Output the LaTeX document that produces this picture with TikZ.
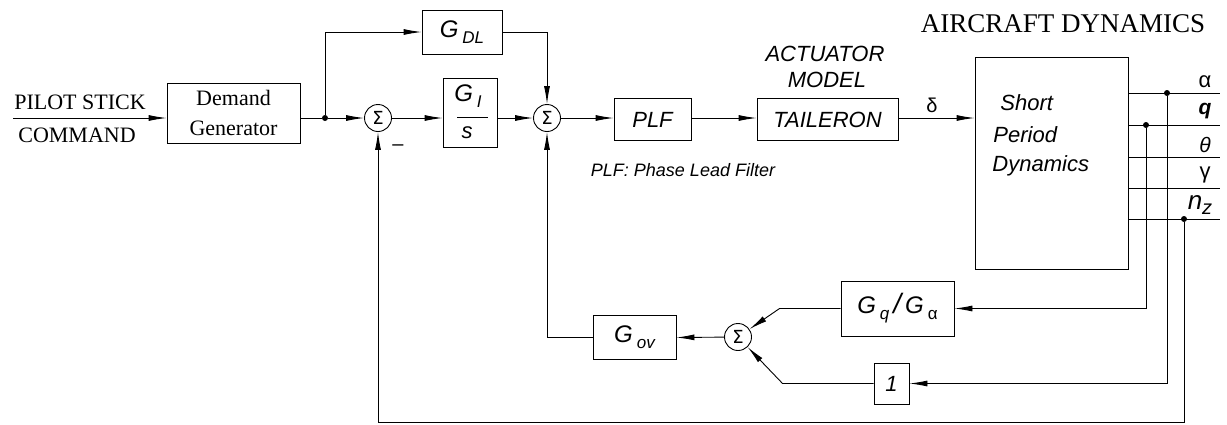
\documentclass[tikz,border=0pt]{standalone}
\usepackage{fontspec}
\setmainfont{Liberation Serif}
\newfontfamily\arial{Liberation Sans}
\newfontfamily\dejavu{DejaVu Sans}
\usetikzlibrary{arrows.meta}
\newcommand\fsz[2]{\fontsize{#1}{#2}\selectfont}
\newcommand\gsub[1]{\,\raisebox{-6pt}{\fsz{17}{17}#1}}
\begin{document}
\begin{tikzpicture}[x=1pt,y=-1pt,
  line width=0.9pt,
  >={Latex[length=18pt,width=6pt]},
  blk/.style={draw, inner sep=0pt, font=\arial\itshape\fsz{22}{26}},
  sblk/.style={draw, inner sep=0pt, align=center, font=\fsz{22}{30}},
  sumnode/.style={draw, circle, minimum size=27pt, inner sep=0pt, font=\dejavu\fsz{18}{18}},
  dot/.style={circle, fill, inner sep=0pt, minimum size=6pt},
  serif/.style={inner sep=0pt, font=\fsz{22}{22}},
  sans/.style={inner sep=0pt, font=\arial\itshape\fsz{22}{22}},
  sig/.style={inner sep=0pt, font=\arial\itshape\fsz{20}{20}}
]
\useasboundingbox (0,0) rectangle (1227,424);

% input text
\node[serif] (pilot) at (80,102) {PILOT STICK};
\node[serif] (cmd) at (77,135) {COMMAND};
\coordinate (in) at (13,118);

% blocks
\node[sblk, minimum width=133pt, minimum height=60pt] (dg) at (233.5,113) {Demand\\Generator};
\node[dot] (split) at (325,118) {};
\node[sumnode] (sum1) at (378,118) {Σ};
\node[sumnode] (sum2) at (547,118) {Σ};
\node[blk, minimum width=80pt, minimum height=44pt, font=\arial\itshape\fsz{24}{24}] (gdl) at (462,32) {G\gsub{DL}};
\node[blk, minimum width=54pt, minimum height=69pt] (gis) at (470,112.5) {};
\node[sans, font=\arial\itshape\fsz{24}{24}] (gi) at (468,96) {G\gsub{I}};
\coordinate (fl1) at (457,117);
\coordinate (fl2) at (488,117);
\draw (fl1) -- (fl2);
\node[sans] (s) at (467,133) {s};
\node[blk, minimum width=77pt, minimum height=42pt] (plf) at (652.5,119.5) {PLF};
\node[blk, minimum width=141pt, minimum height=42pt] (tail) at (827.5,119.5) {TAILERON};
\node[blk, minimum width=153pt, minimum height=212pt] (big) at (1051.5,163) {};
\node[sans, anchor=west] (short) at (1000,103) {Short};
\node[sans, anchor=west] (period) at (993,135) {Period};
\node[sans, anchor=west] (dyn) at (992,166) {Dynamics};

\node[serif, font=\fsz{27}{27}] (acd) at (1063,24) {AIRCRAFT DYNAMICS};
\node[sans] (act) at (825,54) {ACTUATOR};
\node[sans] (mod) at (827,80) {MODEL};
\node[sans, font=\arial\itshape\fsz{18}{18}] (plft) at (683,170) {PLF: Phase Lead Filter};
\node[sans, font=\arial\fsz{20}{20}] (delta) at (932,105) {δ};
\node[sans, font=\arial\fsz{20}{20}] (minus) at (398,148) {–};

% outputs
\coordinate (e1) at (1220,93);
\coordinate (e2) at (1220,125);
\coordinate (e3) at (1220,157);
\coordinate (e4) at (1220,188);
\coordinate (e5) at (1220,219);
\foreach \e in {e1,e2,e3,e4,e5} \draw (big.east |- \e) -- (\e);
\node[sig, font=\arial\fsz{22}{22}] (la) at (1205,82) {α};
\node[sig, font=\arial\bfseries\itshape\fsz{21}{21}] (lq) at (1205,111) {q};
\node[sig, font=\arial\itshape\fsz{21}{21}] (lth) at (1205,145) {θ};
\node[sig, font=\arial\fsz{22}{22}] (lg) at (1205,175) {γ};
\node[sig, font=\arial\itshape\fsz{26}{26}] (lnz) at (1200,205) {n\raisebox{-5pt}{\fsz{20}{20}z}};
\node[dot] (dal) at (1167,93) {};
\node[dot] (dq) at (1146,125) {};
\node[dot] (dnz) at (1184,219) {};

% feedback blocks
\node[blk, minimum width=113pt, minimum height=55pt, font=\arial\itshape\fsz{24}{24}] (gq) at (897.5,308.5) {G\gsub{q}\,{\fsz{28}{28}/}\,G\gsub{\upshape α}};
\node[blk, minimum width=35pt, minimum height=41pt] (one) at (891.5,383.5) {1};
\node[sumnode] (sum3) at (738,337) {Σ};
\node[blk, minimum width=83pt, minimum height=44pt, font=\arial\itshape\fsz{24}{24}] (gov) at (634.5,337.5) {G\gsub{ov}};
\coordinate (bot) at (0,422);

% connectors
\draw[->] (in) -- (dg.west |- in);
\draw (dg.east |- split) -- (split);
\draw[->] (split) -- (sum1);
\draw[->] (split) |- (gdl.west);
\draw[->] (gdl.east) -| (sum2);
\draw[->] (sum1) -- (gis.west |- sum1);
\draw[->] (gis.east |- sum2) -- (sum2);
\draw[->] (sum2) -- (sum2 -| plf.west);
\draw[->] (plf.east |- sum2) -- (sum2 -| tail.west);
\draw[->] (tail.east |- sum2) -- (sum2 -| big.west);
\draw[->] (dq) |- (gq.east);
\draw[->] (dal) |- (one.east);
\draw[->] (dnz) -- (dnz |- bot) -| (sum1);
\draw[->] (gq.west) -- ++(-61,0) -- (sum3);
\draw[->] (one.west) -- ++(-91,0) -- (sum3);
\draw[->] (sum3) -- (gov.east);
\draw[->] (gov.west) -| (sum2);
\end{tikzpicture}
\end{document}
